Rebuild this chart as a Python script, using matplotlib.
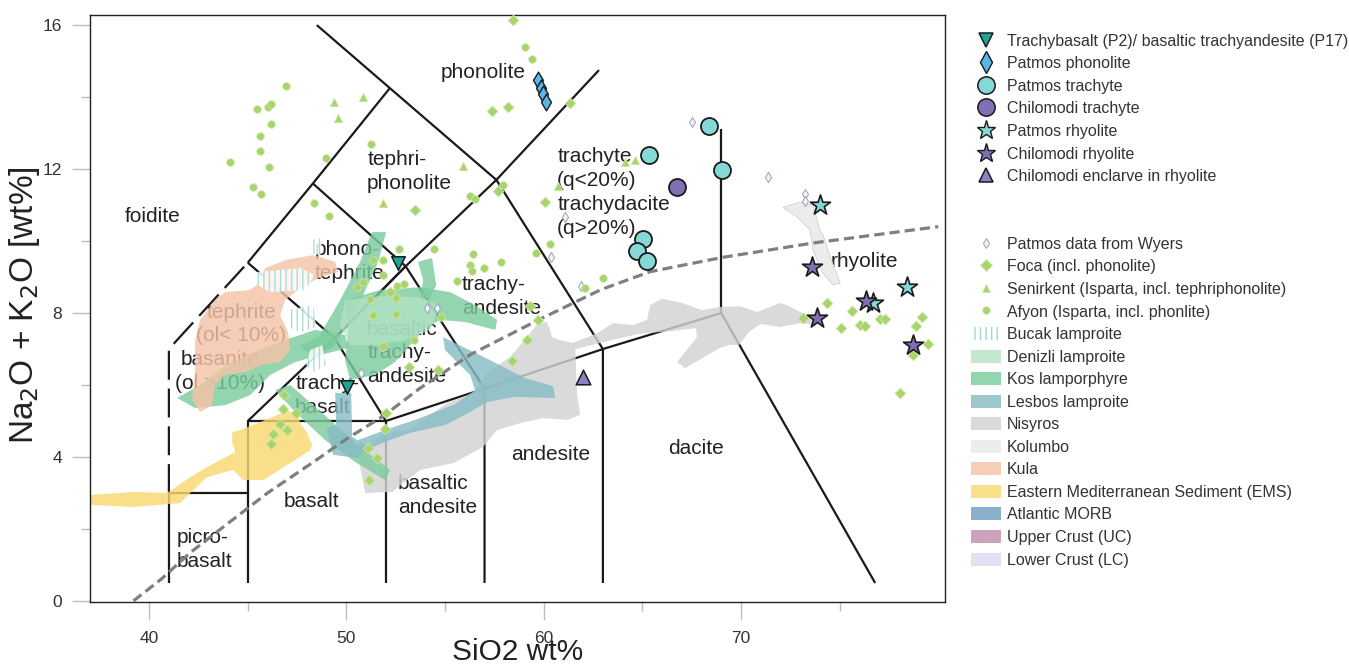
import matplotlib
matplotlib.use("Agg")
import matplotlib.pyplot as plt
from matplotlib.lines import Line2D
from matplotlib.patches import Patch

plt.rcParams["font.family"] = ["Liberation Sans", "DejaVu Sans"]
plt.rcParams["hatch.linewidth"] = 1.0

# ---------------- TAS field boundaries (SiO2 wt%, Na2O+K2O wt%) ----------------
tas_lines = [
    ([41, 41, 45], [0.5, 3, 3]),
    ([45, 45, 52, 52], [0.5, 5, 5, 0.5]),
    ([52, 57, 57], [5, 5.9, 0.5]),
    ([57, 63, 63], [5.9, 7, 0.5]),
    ([63, 69, 76.8], [7, 8, 0.5]),
    ([69, 69], [8, 13.1]),
    ([49.4, 52], [7.3, 5]),
    ([45, 49.4, 53, 57.6, 62.8], [5, 7.3, 9.3, 11.7, 14.75]),
    ([49.4, 53, 57], [7.3, 9.3, 5.9]),
    ([57.6, 63], [11.7, 7]),
    ([45, 49.4], [9.4, 7.3]),
    ([45, 48.3, 52.2], [9.4, 11.6, 14.25]),
    ([48.3, 53], [11.6, 9.3]),
    ([48.5, 52.2, 57.6], [16.0, 14.25, 11.7]),
]
tas_dashed_x = [41, 41, 45]
tas_dashed_y = [3, 7, 9.4]

# alkaline / subalkaline divide
alk_x = [39.2, 40.6, 42.1, 44.1, 46.0, 48.3, 50.0, 51.9, 53.7, 56.3, 59.7, 62.9, 65.4, 69.1, 73.7, 80.0]
alk_y = [0.0, 0.6, 1.35, 2.2, 3.0, 3.85, 4.5, 5.15, 5.9, 6.85, 7.8, 8.65, 9.15, 9.55, 9.95, 10.4]

# ---------------- field names ----------------
field_names = ["foidite", "phonolite", "tephri-\nphonolite", "phono-\ntephrite",
               "trachy-\nbasalt", "basaltic\ntrachy-\nandesite", "trachy-\nandesite",
               "trachyte\n(q<20%)\ntrachydacite\n(q>20%)", "rhyolite", "picro-\nbasalt",
               "basalt", "basaltic\nandesite", "andesite", "dacite"]
field_x = [38.78, 54.8, 51.05, 48.41, 47.40, 51.05, 55.86, 60.68, 74.52, 41.37,
           46.84, 52.62, 58.35, 66.3]
field_y = [10.67, 14.67, 11.93, 9.44, 5.72, 6.89, 8.46, 11.35, 9.42, 1.44,
           2.75, 2.94, 4.06, 4.25]
centered_names = ["tephrite\n(ol< 10%)", "basanite\n(ol >10%)"]
centered_x = [44.66, 43.6]
centered_y = [7.69, 6.375]

# ---------------- reference fields (polygons) ----------------
nisyros_x = [50.85, 51.96, 53.23, 54.09, 55.10, 56.42, 57.13, 58.30, 59.31, 59.72, 60.17, 60.43,
             60.83, 61.49, 62.71, 63.52, 64.53, 65.24, 65.39, 66.0, 67.01, 68.03, 68.94, 69.95,
             70.82, 71.98, 72.34, 73.0, 73.65, 73.65, 73.0, 71.98, 71.0, 70.4, 69.9, 69.4, 68.94,
             67.17, 66.76, 67.77, 67.72, 66.5, 64.8, 63.1, 61.6, 61.69, 61.84, 61.2, 59.97, 58.80,
             57.64, 56.93, 55.41, 53.74, 52.32, 50.95, 50.6]
nisyros_y = [4.25, 4.67, 4.75, 5.11, 5.50, 5.78, 6.33, 6.78, 7.44, 7.72, 7.75, 7.33,
             7.25, 7.17, 7.44, 7.72, 7.67, 7.81, 8.22, 8.4, 8.28, 8.08, 8.17, 8.19,
             8.03, 8.28, 8.22, 8.03, 7.89, 7.67, 7.72, 7.61, 7.7, 7.47, 7.11, 7.11, 7.03,
             6.47, 6.64, 7.33, 7.58, 7.5, 7.42, 7.2, 7.0, 5.78, 5.17, 5.03, 5.08, 4.94,
             4.75, 4.28, 3.83, 3.64, 3.03, 3.0, 4.0]

kolumbo_x = [72.13, 73.0, 73.65, 73.99, 74.16, 74.52, 75.03, 74.67, 74.15, 73.65, 73.5, 72.84]
kolumbo_y = [10.94, 11.08, 11.0, 10.31, 10.17, 9.56, 8.83, 8.78, 9.11, 9.75, 10.31, 10.67]

lesbos_a_x = [49.43, 50.24, 50.29, 50.95, 50.59, 49.33, 48.97, 49.48]
lesbos_a_y = [5.78, 5.78, 4.56, 4.33, 3.97, 4.06, 4.81, 4.89]
lesbos_b_x = [54.90, 57.28, 59.06, 60.47, 60.58, 58.55, 57.13, 56.27, 55.0, 53.23, 51.96, 50.80,
              50.59, 51.96, 53.73, 55.51, 56.52, 56.27, 55.0]
lesbos_b_y = [7.33, 6.69, 6.19, 5.97, 5.64, 5.67, 5.53, 5.25, 4.89, 4.67, 4.42, 4.14,
              4.47, 4.75, 5.08, 5.47, 5.86, 6.28, 6.97]

kula_x = [45.88, 46.89, 48.31, 49.43, 49.58, 48.67, 47.65, 46.89, 46.64, 47.04, 47.15, 46.64, 45.73,
          44.87, 43.85, 43.34, 43.19, 42.58, 42.18, 42.33, 42.33, 42.58, 43.34, 43.85, 45.12, 45.63]
kula_y = [9.25, 9.47, 9.61, 9.42, 9.14, 9.0, 8.69, 8.36, 7.94, 7.47, 6.97, 6.64, 6.56,
          6.36, 6.28, 6.0, 5.44, 5.25, 5.58, 6.42, 7.25, 7.81, 8.36, 8.58, 8.64, 8.86]

kos1_x = [41.42, 42.58, 43.85, 45.37, 46.89, 48.41, 49.93, 50.09, 48.67, 47.40, 46.13, 45.12, 43.85, 42.33]
kos1_y = [5.64, 6.0, 6.53, 6.92, 7.25, 7.53, 7.39, 7.03, 6.83, 6.64, 6.28, 5.72, 5.44, 5.36]
kos2_x = [46.39, 47.15, 49.17, 50.69, 52.21, 51.96, 50.44, 48.92, 47.40]
kos2_y = [5.86, 6.0, 5.03, 4.28, 3.64, 3.36, 3.86, 4.47, 5.25]
kos3_x = [47.65, 48.57, 49.68, 50.69, 51.30, 52.01, 51.61, 50.69, 49.43, 48.41]
kos3_y = [7.11, 7.31, 8.36, 9.42, 10.25, 10.25, 9.42, 8.31, 7.11, 6.69]
kos4_x = [49.93, 51.71, 53.74, 55.26, 56.52, 57.64, 57.54, 56.02, 54.75, 53.99, 53.23, 52.47,
          51.45, 50.19, 49.93, 50.09]
kos4_y = [8.36, 8.64, 8.72, 8.58, 8.22, 7.81, 7.53, 7.75, 7.81, 7.58, 7.11, 6.64,
          6.28, 6.14, 6.69, 7.53]
kos5_x = [53.63, 54.34, 54.55, 54.24, 53.74, 53.89]
kos5_y = [9.42, 9.53, 8.78, 8.42, 8.36, 8.92]

denizli_x = [49.93, 51.71, 53.74, 54.75, 54.24, 52.97, 51.45, 50.19, 49.68]
denizli_y = [8.36, 8.47, 8.44, 8.22, 7.53, 7.25, 7.11, 7.11, 7.67]

bucak1_x = [45.47, 47.65, 48.41, 47.91, 46.13, 45.47]
bucak1_y = [9.14, 9.25, 9.06, 8.64, 8.58, 8.78]
bucak2_x = [46.99, 48.31, 48.46, 47.70, 46.99]
bucak2_y = [8.08, 8.22, 7.61, 7.47, 7.61]
bucak3_x = [48.16, 48.77, 48.97, 48.36, 47.96]
bucak3_y = [6.97, 7.11, 6.56, 6.36, 6.56]
bucak4_x = [48.21, 48.77, 48.67, 48.16]
bucak4_y = [10.03, 10.08, 9.61, 9.67]

ems_x = [36.9, 37.0, 39.19, 41.57, 42.08, 42.94, 44.26, 44.76, 45.78, 47.15, 48.16, 48.26, 48.01,
         47.65, 47.55, 46.99, 45.63, 44.61, 44.21, 44.21, 44.36, 42.94, 42.08, 40.91, 39.19]
ems_y = [2.94, 2.67, 2.61, 2.72, 3.0, 3.44, 3.64, 3.36, 3.36, 3.83, 4.19, 4.33, 4.67,
         4.94, 5.22, 5.28, 4.97, 4.75, 4.69, 4.39, 4.14, 3.72, 3.44, 3.0, 3.03]

# ---------------- sample data ----------------
afyon_x = [59.06, 59.41, 46.94, 45.47, 46.03, 46.18, 46.18, 45.63, 45.63, 46.08, 44.10, 45.27, 45.68,
           48.97, 51.25, 48.36, 49.12, 56.27, 56.52, 57.94, 52.67, 54.44, 56.42, 57.84, 56.27, 56.37,
           56.98, 55.61, 59.61, 60.32, 63.00, 62.10, 51.35, 51.86, 51.86, 50.85, 50.54, 52.57, 52.93,
           51.20, 52.52, 51.35, 52.52, 53.45, 54.80]
afyon_y = [15.39, 15.06, 14.31, 13.67, 13.72, 13.80, 13.25, 12.92, 12.50, 12.06, 12.20, 11.50, 11.30,
           12.30, 12.69, 11.06, 10.69, 11.25, 11.17, 11.56, 9.78, 9.78, 9.64, 9.42, 9.33, 9.17,
           9.25, 8.89, 9.67, 9.92, 8.97, 8.69, 9.47, 9.47, 9.06, 8.86, 8.72, 8.75, 8.81,
           8.39, 8.42, 7.94, 7.97, 7.25, 7.89]

senirkent_x = [49.38, 50.85, 49.58, 55.90, 51.86, 60.70, 64.13, 64.63]
senirkent_y = [13.86, 14.00, 13.42, 12.08, 11.06, 11.53, 12.19, 12.25]

foca_x = [58.45, 57.40, 58.20, 61.34, 57.70, 60.07, 53.48, 52.21, 51.86, 53.18, 54.65, 59.31, 59.72,
          59.16, 58.40, 46.84, 46.79, 47.45, 46.64, 46.99, 46.28, 46.18, 52.01, 51.96, 51.11, 51.56,
          51.15, 74.36, 73.15, 75.63, 75.07, 76.04, 76.29, 77.05, 77.30, 79.18, 78.87, 79.48, 78.72,
          78.06]
foca_y = [16.14, 13.61, 13.72, 13.83, 11.39, 11.08, 10.86, 8.58, 7.08, 6.50, 6.42, 8.19, 7.81,
          7.25, 6.67, 5.72, 5.33, 5.22, 4.92, 4.75, 4.64, 4.36, 5.22, 4.78, 4.25, 3.97,
          3.36, 8.28, 7.86, 8.06, 7.58, 7.67, 7.64, 7.83, 7.83, 7.89, 7.64, 7.14, 6.83,
          5.78]

wyers_x = [67.52, 71.37, 73.25, 73.25, 61.08, 60.37, 61.90, 54.10, 54.60, 50.74]
wyers_y = [13.30, 11.78, 11.31, 11.11, 10.67, 9.56, 8.75, 8.14, 8.14, 6.33]

trachybasalt_x = [52.62, 50.03]
trachybasalt_y = [9.39, 5.94]
phonolite_x = [59.72, 59.85, 59.97, 60.12]
phonolite_y = [14.47, 14.25, 14.10, 13.86]
patmos_trachyte_x = [68.38, 65.34, 69.04, 65.04, 64.73, 65.24]
patmos_trachyte_y = [13.19, 12.39, 11.97, 10.06, 9.72, 9.44]
chilomodi_trachyte_x = [66.76]
chilomodi_trachyte_y = [11.5]
patmos_rhyolite_x = [74.0, 78.42, 76.7]
patmos_rhyolite_y = [11.0, 8.72, 8.28]
chilomodi_rhyolite_x = [73.6, 76.34, 73.86, 78.72]
chilomodi_rhyolite_y = [9.28, 8.33, 7.86, 7.11]
enclave_x = [62.0]
enclave_y = [6.22]

# ---------------- colours ----------------
c_green_pts = "#a7d46b"
c_teal = "#1fa595"
c_blue = "#5bb6e6"
c_cyan = "#84d9d6"
c_purple = "#7f70b6"
c_kos = "#7ccc9e"
c_denizli = "#b5e4c8"
c_lesbos = "#86bcc4"
c_nisyros = "#d2d2d2"
c_kolumbo = "#ececec"
c_kula = "#f5c3a6"
c_ems = "#f9d872"
c_morb = "#6f9fc0"
c_uc = "#c08fae"
c_lc = "#dcdaee"
ALPHA = 0.82

fig = plt.figure(figsize=(13.49, 6.69), dpi=100)
ax = fig.add_axes([0.0667, 0.1001, 0.6338, 0.8774])
ax.set_xlim(37.0, 80.34)
ax.set_ylim(-0.03, 16.28)

# field lines (under the shaded fields)
for lx, ly in tas_lines:
    ax.plot(lx, ly, color="#1a1a1a", lw=1.6, zorder=1, solid_capstyle="butt")
ax.plot(tas_dashed_x, tas_dashed_y, color="#1a1a1a", lw=1.6, zorder=1,
        linestyle=(0, (13, 4)))

for name, x, y in zip(field_names, field_x, field_y):
    ax.text(x, y, name, ha="left", va="center", multialignment="left",
            fontsize=15, color="#222222", linespacing=1.33, zorder=1)
for name, x, y in zip(centered_names, centered_x, centered_y):
    ax.text(x, y, name, ha="center", va="center", multialignment="center",
            fontsize=15, color="#222222", linespacing=1.3, zorder=1)

# shaded reference fields
def field(xs, ys, color, alpha=ALPHA, z=2, **kw):
    ax.fill(xs, ys, facecolor=color, edgecolor="none", alpha=alpha, zorder=z, **kw)

field(nisyros_x, nisyros_y, c_nisyros)
field(kolumbo_x, kolumbo_y, c_kolumbo, alpha=1.0)
ax.fill(kolumbo_x, kolumbo_y, facecolor="none", edgecolor="#d0d0d0", lw=0.6, zorder=2)
field(ems_x, ems_y, c_ems)
field(kos1_x, kos1_y, c_kos)
field(kos2_x, kos2_y, c_kos)
field(kos3_x, kos3_y, c_kos)
field(kos4_x, kos4_y, c_kos)
field(kos5_x, kos5_y, c_kos)
field(denizli_x, denizli_y, c_denizli, alpha=0.7)
field(lesbos_a_x, lesbos_a_y, c_lesbos)
field(lesbos_b_x, lesbos_b_y, c_lesbos)
field(kula_x, kula_y, c_kula)
for bx, by in [(bucak1_x, bucak1_y), (bucak2_x, bucak2_y), (bucak3_x, bucak3_y), (bucak4_x, bucak4_y)]:
    ax.fill(bx, by, facecolor="white", edgecolor="#9fd8d2", hatch="|||", lw=0,
            alpha=0.85, zorder=2.5)

# alkaline / subalkaline divide
ax.plot(alk_x, alk_y, color="#7f7f7f", lw=2.3, linestyle=(0, (3.2, 1.6)), zorder=3)

# samples
ax.scatter(wyers_x, wyers_y, marker="d", s=26, facecolor="#f3f3f8", edgecolor="#9aa0b4",
           linewidths=0.7, zorder=4)
ax.scatter(afyon_x, afyon_y, marker="o", s=30, facecolor=c_green_pts, edgecolor="#cfe6a8",
           linewidths=0.6, zorder=4)
ax.scatter(senirkent_x, senirkent_y, marker="^", s=36, facecolor=c_green_pts, edgecolor="#cfe6a8",
           linewidths=0.6, zorder=4)
ax.scatter(foca_x, foca_y, marker="D", s=30, facecolor=c_green_pts, edgecolor="#cfe6a8",
           linewidths=0.6, zorder=4)
ax.scatter(phonolite_x, phonolite_y, marker="d", s=72, facecolor=c_blue, edgecolor="#1a1a1a",
           linewidths=1.0, zorder=5)
ax.scatter(patmos_trachyte_x, patmos_trachyte_y, marker="o", s=150, facecolor=c_cyan,
           edgecolor="#1a1a1a", linewidths=1.3, zorder=5)
ax.scatter(chilomodi_trachyte_x, chilomodi_trachyte_y, marker="o", s=150, facecolor=c_purple,
           edgecolor="#1a1a1a", linewidths=1.3, zorder=5)
ax.scatter(patmos_rhyolite_x, patmos_rhyolite_y, marker="*", s=230, facecolor=c_cyan,
           edgecolor="#1a1a1a", linewidths=1.2, zorder=5)
ax.scatter(chilomodi_rhyolite_x, chilomodi_rhyolite_y, marker="*", s=230, facecolor=c_purple,
           edgecolor="#1a1a1a", linewidths=1.2, zorder=5)
ax.scatter(enclave_x, enclave_y, marker="^", s=110, facecolor="#8a80c2", edgecolor="#1a1a1a",
           linewidths=1.1, zorder=5)
ax.scatter(trachybasalt_x, trachybasalt_y, marker="v", s=95, facecolor=c_teal, edgecolor="#1a1a1a",
           linewidths=1.1, zorder=5)

# axes styling
ax.set_xticks([40, 50, 60, 70])
ax.set_xticks([45, 55, 65, 75], minor=True)
ax.set_yticks([0, 4, 8, 12, 16])
ax.set_yticks([2, 6, 10, 14], minor=True)
ax.tick_params(which="major", direction="out", length=13, width=1.0, color="#bdbdbd",
               labelsize=12.5, labelcolor="#333333")
ax.tick_params(axis="x", which="major", pad=7.5)
ax.tick_params(axis="y", which="major", pad=7)
ax.tick_params(which="minor", direction="out", length=6.5, width=1.0, color="#bdbdbd")
for sp in ax.spines.values():
    sp.set_color("#222222")
    sp.set_linewidth(1.0)
ax.set_xlabel("SiO2 wt%", fontsize=21.5, color="#222222")
ax.xaxis.set_label_coords(0.5, -0.061)
ax.set_ylabel(r"Na$_2$O + K$_2$O [wt%]", fontsize=24, color="#222222")
ax.yaxis.set_label_coords(-0.056, 0.505)

# legends
leg_kw = dict(frameon=False, fontsize=11.5, handlelength=1.88, handleheight=0.88,
              handletextpad=0.38, borderpad=0, borderaxespad=0, labelspacing=0.47,
              loc="upper left", labelcolor="#333333")
h1 = [
    Line2D([], [], ls="none", marker="v", ms=10, mfc=c_teal, mec="#1a1a1a", mew=1.1),
    Line2D([], [], ls="none", marker="d", ms=11, mfc=c_blue, mec="#1a1a1a", mew=1.0),
    Line2D([], [], ls="none", marker="o", ms=12.5, mfc=c_cyan, mec="#1a1a1a", mew=1.1),
    Line2D([], [], ls="none", marker="o", ms=12.5, mfc=c_purple, mec="#1a1a1a", mew=1.1),
    Line2D([], [], ls="none", marker="*", ms=14, mfc=c_cyan, mec="#1a1a1a", mew=1.0),
    Line2D([], [], ls="none", marker="*", ms=14, mfc=c_purple, mec="#1a1a1a", mew=1.0),
    Line2D([], [], ls="none", marker="^", ms=10.5, mfc="#8a80c2", mec="#1a1a1a", mew=1.1),
]
l1 = ["Trachybasalt (P2)/ basaltic trachyandesite (P17)", "Patmos phonolite", "Patmos trachyte",
      "Chilomodi trachyte", "Patmos rhyolite", "Chilomodi rhyolite", "Chilomodi enclarve in rhyolite"]
leg1 = fig.legend(h1, l1, bbox_to_anchor=(0.7198, 0.9495), **leg_kw)

h2 = [
    Line2D([], [], ls="none", marker="d", ms=5.5, mfc="#f3f3f8", mec="#9aa0b4", mew=0.7),
    Line2D([], [], ls="none", marker="D", ms=6.5, mfc=c_green_pts, mec="#cfe6a8", mew=0.6),
    Line2D([], [], ls="none", marker="^", ms=6, mfc=c_green_pts, mec="#cfe6a8", mew=0.6),
    Line2D([], [], ls="none", marker="o", ms=5.5, mfc=c_green_pts, mec="#cfe6a8", mew=0.6),
    Patch(facecolor="white", edgecolor="#9fd8d2", hatch="|||", lw=0),
    Patch(facecolor=c_denizli, alpha=ALPHA, lw=0),
    Patch(facecolor=c_kos, alpha=ALPHA, lw=0),
    Patch(facecolor=c_lesbos, alpha=ALPHA, lw=0),
    Patch(facecolor=c_nisyros, alpha=ALPHA, lw=0),
    Patch(facecolor=c_kolumbo, alpha=1.0, lw=0),
    Patch(facecolor=c_kula, alpha=ALPHA, lw=0),
    Patch(facecolor=c_ems, alpha=ALPHA, lw=0),
    Patch(facecolor=c_morb, alpha=ALPHA, lw=0),
    Patch(facecolor=c_uc, alpha=ALPHA, lw=0),
    Patch(facecolor=c_lc, alpha=ALPHA, lw=0),
]
l2 = ["Patmos data from Wyers", "Foca (incl. phonolite)", "Senirkent (Isparta, incl. tephriphonolite)",
      "Afyon (Isparta, incl. phonlite)", "Bucak lamproite", "Denizli lamproite", "Kos lamporphyre",
      "Lesbos lamproite", "Nisyros", "Kolumbo", "Kula", "Eastern Mediterranean Sediment (EMS)",
      "Atlantic MORB", "Upper Crust (UC)", "Lower Crust (LC)"]
leg2 = fig.legend(h2, l2, bbox_to_anchor=(0.7198, 0.646), **leg_kw)

fig.savefig("out.png", dpi=100)
